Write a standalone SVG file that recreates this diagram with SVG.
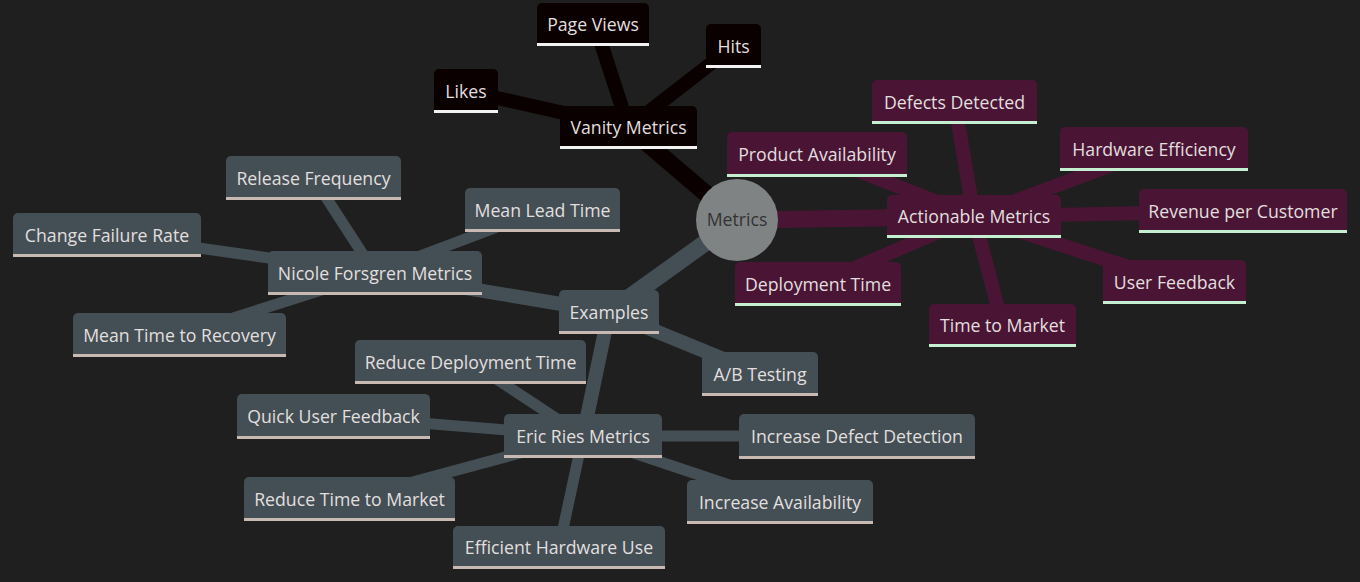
<svg xmlns="http://www.w3.org/2000/svg" width="1360" height="582" viewBox="0 0 1360 582">
<style>
.e{fill:none;stroke-linecap:butt}
.d0{stroke-width:17}.d1{stroke-width:14}.d2{stroke-width:11}
.s0{stroke:#0b0000}.s1{stroke:#4a1535}.s2{stroke:#444f55}
.f0{fill:#0b0000}.f1{fill:#4a1535}.f2{fill:#444f55}
.u0{stroke:#f2f2f2;stroke-width:3}.u1{stroke:#c4efd0;stroke-width:3}.u2{stroke:#c9b9b3;stroke-width:3}
text{font-family:"Open Sans","Liberation Sans",sans-serif;font-size:17.7px;fill:#e2dfdf;text-anchor:middle}
.rt{fill:#333333}
</style>
<rect width="1360" height="582" fill="#1f1f1f"/>
<g id="connectors">
<line class="e d0 s0" x1="737" y1="220" x2="628.5" y2="127.5"/>
<line class="e d1 s0" x1="628.5" y1="127.5" x2="595" y2="24.5"/>
<line class="e d1 s0" x1="628.5" y1="127.5" x2="733.5" y2="46"/>
<line class="e d1 s0" x1="628.5" y1="127.5" x2="466" y2="91"/>
<line class="e d0 s1" x1="737" y1="220" x2="974" y2="216.5"/>
<line class="e d1 s1" x1="974" y1="216.5" x2="954.5" y2="102"/>
<line class="e d1 s1" x1="974" y1="216.5" x2="817" y2="154.5"/>
<line class="e d1 s1" x1="974" y1="216.5" x2="1154" y2="149"/>
<line class="e d1 s1" x1="974" y1="216.5" x2="1243" y2="211"/>
<line class="e d1 s1" x1="974" y1="216.5" x2="1174.5" y2="282"/>
<line class="e d1 s1" x1="974" y1="216.5" x2="818" y2="284"/>
<line class="e d1 s1" x1="974" y1="216.5" x2="1002.5" y2="325.5"/>
<line class="e d0 s2" x1="737" y1="220" x2="609" y2="312"/>
<line class="e d1 s2" x1="609" y1="312" x2="760" y2="374"/>
<line class="e d1 s2" x1="609" y1="312" x2="583" y2="436"/>
<line class="e d1 s2" x1="609" y1="312" x2="375" y2="273"/>
<line class="e d2 s2" x1="375" y1="273" x2="313.5" y2="178"/>
<line class="e d2 s2" x1="375" y1="273" x2="542.5" y2="210"/>
<line class="e d2 s2" x1="375" y1="273" x2="107" y2="235"/>
<line class="e d2 s2" x1="375" y1="273" x2="179.5" y2="335"/>
<line class="e d2 s2" x1="583" y1="436" x2="470.5" y2="362"/>
<line class="e d2 s2" x1="583" y1="436" x2="333.5" y2="416"/>
<line class="e d2 s2" x1="583" y1="436" x2="349.5" y2="499"/>
<line class="e d2 s2" x1="583" y1="436" x2="559" y2="547.5"/>
<line class="e d2 s2" x1="583" y1="436" x2="857" y2="436"/>
<line class="e d2 s2" x1="583" y1="436" x2="780" y2="502"/>
</g>
<g id="root"><circle cx="737" cy="220" r="41" fill="#7f8384"/><text class="rt" x="737" y="226">Metrics</text></g>

<g id="vanity"><path class="f0" d="M560 149V111a5 5 0 0 1 5-5H692a5 5 0 0 1 5 5V149Z"/><line class="u0" x1="560" y1="147.5" x2="697" y2="147.5"/><text x="628.5" y="134">Vanity Metrics</text></g>
<g id="pageviews"><path class="f0" d="M537 46V8a5 5 0 0 1 5-5H644a5 5 0 0 1 5 5V46Z"/><line class="u0" x1="537" y1="44.5" x2="649" y2="44.5"/><text x="593" y="31">Page Views</text></g>
<g id="hits"><path class="f0" d="M706 68V29a5 5 0 0 1 5-5H756a5 5 0 0 1 5 5V68Z"/><line class="u0" x1="706" y1="66.5" x2="761" y2="66.5"/><text x="733.5" y="53">Hits</text></g>
<g id="likes"><path class="f0" d="M434 113V74a5 5 0 0 1 5-5H493a5 5 0 0 1 5 5V113Z"/><line class="u0" x1="434" y1="111.5" x2="498" y2="111.5"/><text x="466" y="98">Likes</text></g>

<g id="actionable"><path class="f1" d="M887 238V200a5 5 0 0 1 5-5H1056a5 5 0 0 1 5 5V238Z"/><line class="u1" x1="887" y1="236.5" x2="1061" y2="236.5"/><text x="974" y="223">Actionable Metrics</text></g>
<g id="defects"><path class="f1" d="M872 124V85a5 5 0 0 1 5-5H1032a5 5 0 0 1 5 5V124Z"/><line class="u1" x1="872" y1="122.5" x2="1037" y2="122.5"/><text x="954.5" y="109">Defects Detected</text></g>
<g id="availability"><path class="f1" d="M727 177V137a5 5 0 0 1 5-5H902a5 5 0 0 1 5 5V177Z"/><line class="u1" x1="727" y1="175.5" x2="907" y2="175.5"/><text x="817" y="161">Product Availability</text></g>
<g id="hardware"><path class="f1" d="M1060 171V132a5 5 0 0 1 5-5H1243a5 5 0 0 1 5 5V171Z"/><line class="u1" x1="1060" y1="169.5" x2="1248" y2="169.5"/><text x="1154" y="156">Hardware Efficiency</text></g>
<g id="revenue"><path class="f1" d="M1139 233V194a5 5 0 0 1 5-5H1342a5 5 0 0 1 5 5V233Z"/><line class="u1" x1="1139" y1="231.5" x2="1347" y2="231.5"/><text x="1243" y="218">Revenue per Customer</text></g>
<g id="userfeedback"><path class="f1" d="M1103 304V265a5 5 0 0 1 5-5H1241a5 5 0 0 1 5 5V304Z"/><line class="u1" x1="1103" y1="302.5" x2="1246" y2="302.5"/><text x="1174.5" y="289">User Feedback</text></g>
<g id="deployment"><path class="f1" d="M735 306V267a5 5 0 0 1 5-5H896a5 5 0 0 1 5 5V306Z"/><line class="u1" x1="735" y1="304.5" x2="901" y2="304.5"/><text x="818" y="291">Deployment Time</text></g>
<g id="timetomarket"><path class="f1" d="M929 347V309a5 5 0 0 1 5-5H1071a5 5 0 0 1 5 5V347Z"/><line class="u1" x1="929" y1="345.5" x2="1076" y2="345.5"/><text x="1002.5" y="332">Time to Market</text></g>

<g id="examples"><path class="f2" d="M559 334V295a5 5 0 0 1 5-5H654a5 5 0 0 1 5 5V334Z"/><line class="u2" x1="559" y1="332.5" x2="659" y2="332.5"/><text x="609" y="319">Examples</text></g>
<g id="abtesting"><path class="f2" d="M702 396V357a5 5 0 0 1 5-5H813a5 5 0 0 1 5 5V396Z"/><line class="u2" x1="702" y1="394.5" x2="818" y2="394.5"/><text x="760" y="381">A/B Testing</text></g>
<g id="nicole"><path class="f2" d="M268 295V256a5 5 0 0 1 5-5H477a5 5 0 0 1 5 5V295Z"/><line class="u2" x1="268" y1="293.5" x2="482" y2="293.5"/><text x="375" y="280">Nicole Forsgren Metrics</text></g>
<g id="release"><path class="f2" d="M226 200V161a5 5 0 0 1 5-5H396a5 5 0 0 1 5 5V200Z"/><line class="u2" x1="226" y1="198.5" x2="401" y2="198.5"/><text x="313.5" y="185">Release Frequency</text></g>
<g id="leadtime"><path class="f2" d="M465 232V193a5 5 0 0 1 5-5H615a5 5 0 0 1 5 5V232Z"/><line class="u2" x1="465" y1="230.5" x2="620" y2="230.5"/><text x="542.5" y="217">Mean Lead Time</text></g>
<g id="changefailure"><path class="f2" d="M13 257V218a5 5 0 0 1 5-5H196a5 5 0 0 1 5 5V257Z"/><line class="u2" x1="13" y1="255.5" x2="201" y2="255.5"/><text x="107" y="242">Change Failure Rate</text></g>
<g id="recovery"><path class="f2" d="M73 357V318a5 5 0 0 1 5-5H281a5 5 0 0 1 5 5V357Z"/><line class="u2" x1="73" y1="355.5" x2="286" y2="355.5"/><text x="179.5" y="342">Mean Time to Recovery</text></g>
<g id="eric"><path class="f2" d="M504 458V419a5 5 0 0 1 5-5H657a5 5 0 0 1 5 5V458Z"/><line class="u2" x1="504" y1="456.5" x2="662" y2="456.5"/><text x="583" y="443">Eric Ries Metrics</text></g>
<g id="reducedeploy"><path class="f2" d="M355 384V345a5 5 0 0 1 5-5H581a5 5 0 0 1 5 5V384Z"/><line class="u2" x1="355" y1="382.5" x2="586" y2="382.5"/><text x="470.5" y="369">Reduce Deployment Time</text></g>
<g id="quickfeedback"><path class="f2" d="M237 439V399a5 5 0 0 1 5-5H425a5 5 0 0 1 5 5V439Z"/><line class="u2" x1="237" y1="437.5" x2="430" y2="437.5"/><text x="333.5" y="423">Quick User Feedback</text></g>
<g id="reducetime"><path class="f2" d="M244 521V482a5 5 0 0 1 5-5H450a5 5 0 0 1 5 5V521Z"/><line class="u2" x1="244" y1="519.5" x2="455" y2="519.5"/><text x="349.5" y="506">Reduce Time to Market</text></g>
<g id="efficienthw"><path class="f2" d="M453 569V531a5 5 0 0 1 5-5H660a5 5 0 0 1 5 5V569Z"/><line class="u2" x1="453" y1="567.5" x2="665" y2="567.5"/><text x="559" y="554">Efficient Hardware Use</text></g>
<g id="defectdetection"><path class="f2" d="M739 459V419a5 5 0 0 1 5-5H970a5 5 0 0 1 5 5V459Z"/><line class="u2" x1="739" y1="457.5" x2="975" y2="457.5"/><text x="857" y="443">Increase Defect Detection</text></g>
<g id="incavailability"><path class="f2" d="M687 524V485a5 5 0 0 1 5-5H868a5 5 0 0 1 5 5V524Z"/><line class="u2" x1="687" y1="522.5" x2="873" y2="522.5"/><text x="780" y="509">Increase Availability</text></g>
</svg>
